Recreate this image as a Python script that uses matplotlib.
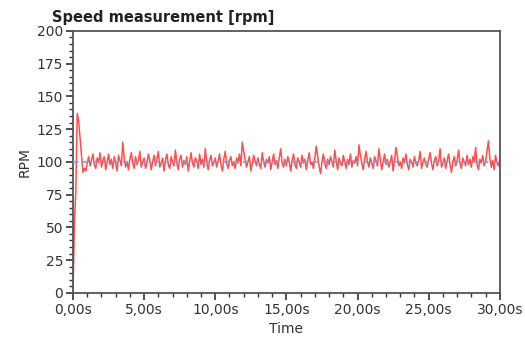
import matplotlib
matplotlib.use('Agg')
import matplotlib.pyplot as plt
from matplotlib.ticker import MultipleLocator, FuncFormatter

# speed samples, one every 0.1 s
rpm = [
    0, 53, 78, 137, 131, 118, 104, 92, 95, 93,
    99, 104, 97, 101, 106, 98, 95, 103, 99, 107,
    96, 101, 104, 94, 100, 106, 98, 102, 95, 104,
    99, 93, 105, 101, 97, 115, 103, 96, 100, 94,
    102, 107, 99, 95, 104, 98, 101, 108, 96, 100,
    103, 95, 99, 106, 101, 94, 100, 105, 97, 102,
    108, 96, 99, 103, 93, 101, 106, 98, 95, 104,
    100, 97, 109, 99, 94, 102, 105, 96, 101, 98,
    104, 93, 100, 107, 99, 96, 103, 101, 95, 106,
    98, 102, 96, 110, 100, 94, 101, 105, 97, 99,
    103, 96, 100, 106, 98, 93, 102, 108, 99, 95,
    101, 104, 97, 100, 95, 103, 99, 106, 97, 115,
    108, 102, 96, 100, 104, 93, 99, 105, 101, 97,
    103, 98, 95, 107, 100, 96, 102, 99, 104, 94,
    100, 106, 98, 101, 95, 103, 110, 99, 96, 102,
    97, 104, 100, 93, 101, 106, 98, 95, 103, 100,
    96, 105, 99, 102, 94, 101, 107, 98, 100, 95,
    103, 112, 104, 97, 91, 100, 106, 99, 95, 102,
    98, 104, 100, 96, 109, 101, 94, 103, 99, 97,
    105, 100, 95, 102, 98, 106, 96, 101, 99, 104,
    97, 113, 105, 99, 94, 102, 108, 100, 96, 103,
    99, 95, 104, 101, 97, 110, 102, 94, 100, 106,
    98, 102, 96, 100, 105, 93, 101, 111, 104, 97,
    100, 95, 103, 99, 106, 98, 94, 102, 100, 96,
    104, 99, 97, 101, 108, 95, 100, 103, 98, 96,
    102, 107, 99, 94, 101, 104, 97, 100, 110, 96,
    99, 103, 95, 101, 106, 98, 92, 100, 104, 97,
    101, 109, 99, 95, 103, 100, 97, 105, 98, 102,
    96, 104, 100, 111, 98, 94, 102, 99, 105, 97,
    100, 108, 116, 103, 96, 101, 94, 105, 99, 97,
    101,
]
time = [i * 0.1 for i in range(len(rpm))]
setpoint = 100

fig = plt.figure(figsize=(5.25, 3.47), dpi=100)
ax = fig.add_axes([0.139, 0.156, 0.813, 0.755])

ax.plot(time, rpm, color='#ff3b3b', lw=1.1, alpha=0.9, zorder=2)
ax.axhline(setpoint, color='#6aa6ee', lw=1.6, ls=(0, (2.5, 2)), zorder=3, alpha=0.85)

ax.set_xlim(0, 30)
ax.set_ylim(0, 200)
ax.xaxis.set_major_locator(MultipleLocator(5))
ax.xaxis.set_minor_locator(MultipleLocator(1))
ax.yaxis.set_major_locator(MultipleLocator(25))
ax.yaxis.set_minor_locator(MultipleLocator(5))
ax.xaxis.set_major_formatter(FuncFormatter(lambda v, p: f'{v:.2f}'.replace('.', ',') + 's'))

for s in ax.spines.values():
    s.set_color('#555555')
    s.set_linewidth(1.3)
ax.tick_params(which='major', length=5, width=1.2, color='#333333',
               labelsize=10, labelcolor='#333333', pad=2)
ax.tick_params(which='minor', length=3, width=1.0, color='#333333')

ax.set_xlabel('Time', fontsize=10, color='#333333', labelpad=4)
ax.set_ylabel('RPM', fontsize=10, color='#333333', labelpad=4)
fig.text(0.099, 0.95, 'Speed measurement [rpm]', fontsize=10.5,
         fontweight='bold', color='#222222', va='center')

fig.savefig('out.png', dpi=100)
